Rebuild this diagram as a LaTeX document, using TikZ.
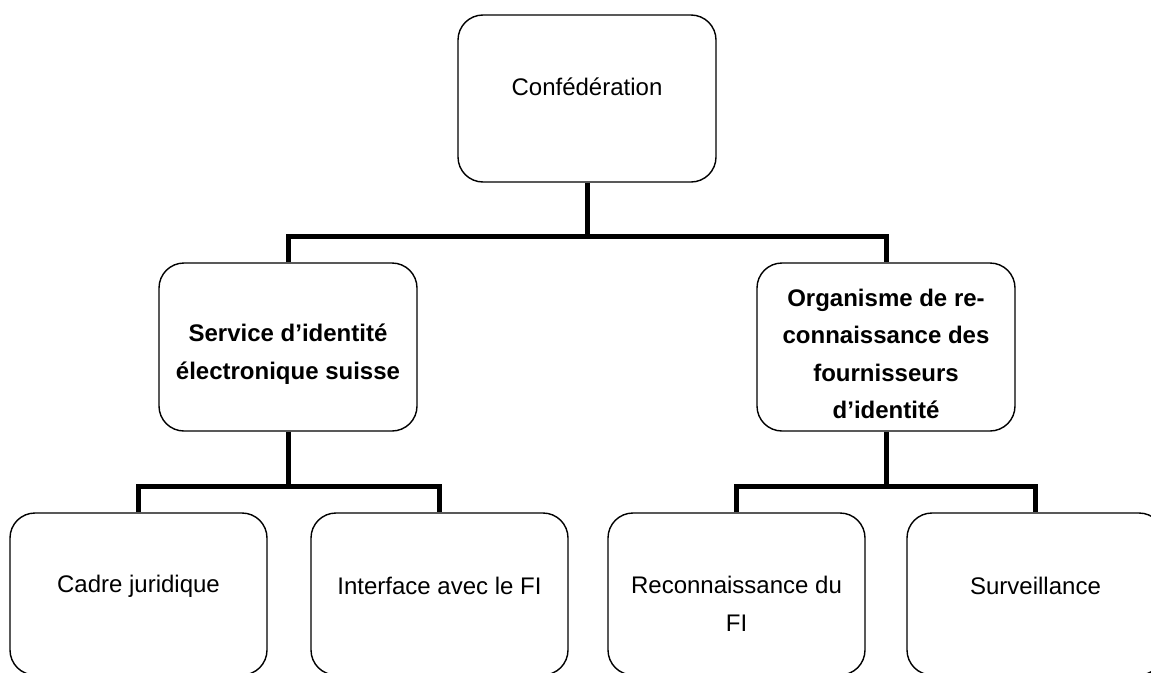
\documentclass[tikz,border=0pt]{standalone}
\usepackage{fontspec}
\setmainfont{Liberation Sans}
\begin{document}
\begin{tikzpicture}[x=1pt,y=-1pt,
  box/.style={draw=black,line width=1.4pt,rounded corners=25pt,inner sep=0pt,minimum width=258pt,minimum height=167pt},
  lowbox/.style={box,minimum width=257pt,minimum height=162pt},
  conn/.style={draw=black,line width=5pt},
  txt/.style={align=center,inner sep=0pt,font=\fontsize{24}{37.5}\selectfont},
  btxt/.style={txt,font=\fontsize{24}{37.5}\selectfont\bfseries}]
\useasboundingbox (0,0) rectangle (1151,672);
\clip (0,0) rectangle (1151,672);
\fill[white] (0,0) rectangle (1151,672);
% boxes
\node[box] (top) at (587,98.5) {};
\node[box,minimum height=168pt] (lmid) at (288,347) {};
\node[box,minimum height=168pt] (rmid) at (886,347) {};
\node[lowbox] (b1) at (138.5,594) {};
\node[lowbox] (b2) at (439.5,594) {};
\node[lowbox] (b3) at (736.5,594) {};
\node[lowbox] (b4) at (1035.5,594) {};
% texts
\node[txt] (ttop) at (587,87) {Confédération};
\node[btxt] (tlmid) at (288,354) {Service d’identité\\électronique suisse};
\node[btxt] (trmid) at (886,354) {Organisme de re-\\connaissance des\\fournisseurs\\d’identité};
\node[txt] (tb1) at (138.5,586) {Cadre juridique};
\node[txt] (tb2) at (439.5,586) {Interface avec le FI};
\node[txt] (tb3) at (736.5,604) {Reconnaissance du\\FI};
\node[txt] (tb4) at (1035.5,586) {Surveillance};
% junctions
\coordinate (j1) at (587,236);
\coordinate (j2) at (288,486);
\coordinate (j3) at (886,486);
% connectors
\draw[conn] (top.south) -- (j1);
\draw[conn] (lmid.north) |- (j1) -| (rmid.north);
\draw[conn] (lmid.south) -- (j2);
\draw[conn] (b1.north) |- (j2) -| (b2.north);
\draw[conn] (rmid.south) -- (j3);
\draw[conn] (b3.north) |- (j3) -| (b4.north);
\end{tikzpicture}
\end{document}
